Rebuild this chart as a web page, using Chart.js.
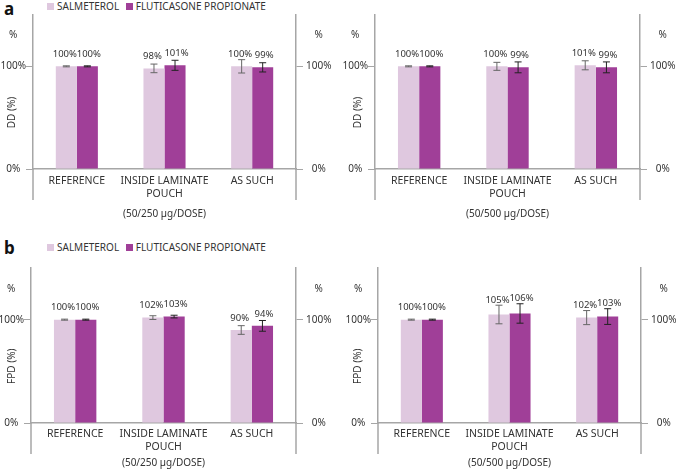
<!DOCTYPE html>
<html>
<head>
<meta charset="utf-8">
<script src="https://cdn.jsdelivr.net/npm/chart.js@4"></script>
<style>
body { margin:0; background:#fff; width:676px; height:469px; position:relative; overflow:hidden; font-family:'Noto Sans', sans-serif; color:#333; }
canvas { position:absolute; }
.panel { position:absolute; font-weight:bold; font-size:17px; color:#111; }
.legend { position:absolute; font-size:10px; line-height:12px; white-space:nowrap; }
.sw { display:inline-block; width:7px; height:7px; margin-right:3px; vertical-align:0px; }
</style>
</head>
<body>
<div class="panel" style="left:4px;top:-3px">a</div>
<div class="legend" style="left:47px;top:0px"><span class="sw" style="background:#dfc8df"></span>SALMETEROL <span class="sw" style="background:#a03f98;margin-left:4px"></span>FLUTICASONE PROPIONATE</div>
<div class="panel" style="left:4px;top:236px">b</div>
<div class="legend" style="left:47px;top:241px"><span class="sw" style="background:#dfc8df"></span>SALMETEROL <span class="sw" style="background:#a03f98;margin-left:4px"></span>FLUTICASONE PROPIONATE</div>

<canvas id="ddLow" width="338" height="225" style="left:0;top:0"></canvas>
<canvas id="ddHigh" width="338" height="225" style="left:338px;top:0"></canvas>
<canvas id="fpdLow" width="338" height="219" style="left:0;top:250px"></canvas>
<canvas id="fpdHigh" width="338" height="219" style="left:338px;top:250px"></canvas>

<script>
const categories = [['REFERENCE'], ['INSIDE LAMINATE', 'POUCH'], ['AS SUCH']];
const seriesNames = ['SALMETEROL', 'FLUTICASONE PROPIONATE'];
const yTicks = [0, 100, 130];
const yTickLabels = ['0%', '100%', '%'];

// panel a: DD
const ddLowSal = [100, 98, 100];
const ddLowFlu = [100, 101, 99];
const ddLowSalErr = [0.5, 4.2, 6.5];
const ddLowFluErr = [0.5, 4.9, 4.5];
const ddHighSal = [100, 100, 101];
const ddHighFlu = [100, 99, 99];
const ddHighSalErr = [0.5, 3.9, 4.4];
const ddHighFluErr = [0.5, 5.3, 5.3];
// panel b: FPD
const fpdLowSal = [100, 102, 90];
const fpdLowFlu = [100, 103, 94];
const fpdLowSalErr = [0.5, 1.8, 4.2];
const fpdLowFluErr = [0.5, 1.3, 5.2];
const fpdHighSal = [100, 105, 102];
const fpdHighFlu = [100, 106, 103];
const fpdHighSalErr = [0.5, 9, 6.8];
const fpdHighFluErr = [0.5, 9.4, 7.6];

const FONT = "'Noto Sans', sans-serif";
const AXIS = '#a6a6a6';
const TXT = '#333';

const errorBars = {
    id: 'errorBars',
    afterDatasetsDraw(chart) {
        const ctx = chart.ctx;
        const y = chart.scales.y;
        chart.data.datasets.forEach((ds, i) => {
            chart.getDatasetMeta(i).data.forEach((bar, j) => {
                const v = ds.data[j], e = ds.errors[j];
                const top = y.getPixelForValue(v + e);
                const bot = y.getPixelForValue(v - e);
                ctx.save();
                ctx.strokeStyle = ds.errorColor;
                ctx.lineWidth = 1;
                ctx.beginPath();
                ctx.moveTo(bar.x, top); ctx.lineTo(bar.x, bot);
                ctx.moveTo(bar.x - 3.5, top); ctx.lineTo(bar.x + 3.5, top);
                ctx.moveTo(bar.x - 3.5, bot); ctx.lineTo(bar.x + 3.5, bot);
                ctx.stroke();
                ctx.fillStyle = TXT;
                ctx.font = '9.5px ' + FONT;
                ctx.textAlign = 'center';
                ctx.textBaseline = 'middle';
                // nudge the pair apart a little so the labels don't touch
                const dx = i === 0 ? -1.5 : 1.5;
                ctx.fillText(v + '%', bar.x + dx, Math.min(top - 5, bar.y - 12));
                ctx.restore();
            });
        });
    }
};

// vertical axis lines carried on below the baseline, plus rotated y title
const frame = {
    id: 'frame',
    afterDraw(chart, args, opts) {
        const ctx = chart.ctx;
        const a = chart.chartArea;
        ctx.save();
        ctx.strokeStyle = AXIS;
        ctx.lineWidth = 1.5;
        ctx.beginPath();
        ctx.moveTo(a.left, a.bottom); ctx.lineTo(a.left, a.bottom + opts.ext);
        ctx.moveTo(a.right, a.bottom); ctx.lineTo(a.right, a.bottom + opts.ext);
        ctx.stroke();
        ctx.translate(opts.titleX, chart.scales.y.getPixelForValue(55));
        ctx.rotate(-Math.PI / 2);
        ctx.fillStyle = TXT;
        ctx.font = '10px ' + FONT;
        ctx.textAlign = 'center';
        ctx.textBaseline = 'middle';
        ctx.fillText(opts.yTitle, 0, 0);
        ctx.restore();
    }
};

function yAxis(pos, width, pad) {
    return {
        position: pos,
        min: 0,
        max: 150,
        afterBuildTicks: s => { s.ticks = yTicks.map(v => ({ value: v })); },
        afterFit: s => { s.width = width; },
        border: { display: true, color: AXIS, width: 1.5 },
        grid: {
            drawOnChartArea: false,
            tickLength: 7,
            color: c => (c.tick && c.tick.value === 130) ? 'rgba(0,0,0,0)' : AXIS
        },
        ticks: {
            padding: pad,
            crossAlign: 'center',
            color: TXT,
            font: { family: FONT, size: 10 },
            callback: v => yTickLabels[yTicks.indexOf(v)]
        }
    };
}

function makeChart(id, sal, flu, salErr, fluErr, g) {
    new Chart(document.getElementById(id), {
        type: 'bar',
        data: {
            labels: categories,
            datasets: [{
                label: seriesNames[0],
                data: sal,
                errors: salErr,
                errorColor: '#666',
                backgroundColor: '#dfc8df',
                categoryPercentage: 0.48,
                barPercentage: 1
            }, {
                label: seriesNames[1],
                data: flu,
                errors: fluErr,
                errorColor: '#222',
                backgroundColor: '#a03f98',
                categoryPercentage: 0.48,
                barPercentage: 1
            }]
        },
        options: {
            responsive: false,
            animation: false,
            layout: { padding: { top: g.top, left: 0, right: 0, bottom: 0 } },
            plugins: {
                legend: { display: false },
                tooltip: { enabled: false },
                frame: { ext: 31, titleX: g.titleX, yTitle: g.yTitle }
            },
            scales: {
                x: {
                    afterFit: s => { s.height = g.xh; },
                    border: { display: true, color: AXIS, width: 1.5 },
                    grid: { display: false, drawTicks: false },
                    ticks: { padding: g.xpad, color: TXT, font: { family: FONT, size: 10.5 },
                             maxRotation: 0, autoSkip: false },
                    title: { display: true, text: g.xTitle, color: TXT, font: { family: FONT, size: 10 },
                             padding: { top: 0, bottom: g.tpad } }
                },
                y: yAxis('left', g.lw, g.lpad),
                y2: yAxis('right', g.rw, g.rpad)
            }
        },
        plugins: [errorBars, frame]
    });
}

makeChart('ddLow', ddLowSal, ddLowFlu, ddLowSalErr, ddLowFluErr,
    { top: 15, xh: 56, lw: 33, rw: 42, lpad: 0, rpad: 3, xpad: 6, tpad: 5, titleX: 12, yTitle: 'DD (%)', xTitle: '(50/250 µg/DOSE)' });
makeChart('ddHigh', ddHighSal, ddHighFlu, ddHighSalErr, ddHighFluErr,
    { top: 15, xh: 56, lw: 37, rw: 36, lpad: 0, rpad: 3, xpad: 6, tpad: 5, titleX: 20, yTitle: 'DD (%)', xTitle: '(50/500 µg/DOSE)' });
makeChart('fpdLow', fpdLowSal, fpdLowFlu, fpdLowSalErr, fpdLowFluErr,
    { top: 18, xh: 46, lw: 31, rw: 42, lpad: 0, rpad: 3, xpad: 5, tpad: 0, titleX: 12, yTitle: 'FPD (%)', xTitle: '(50/250 µg/DOSE)' });
makeChart('fpdHigh', fpdHighSal, fpdHighFlu, fpdHighSalErr, fpdHighFluErr,
    { top: 18, xh: 46, lw: 40, rw: 35, lpad: 0, rpad: 3, xpad: 5, tpad: 0, titleX: 20, yTitle: 'FPD (%)', xTitle: '(50/500 µg/DOSE)' });
</script>
</body>
</html>
